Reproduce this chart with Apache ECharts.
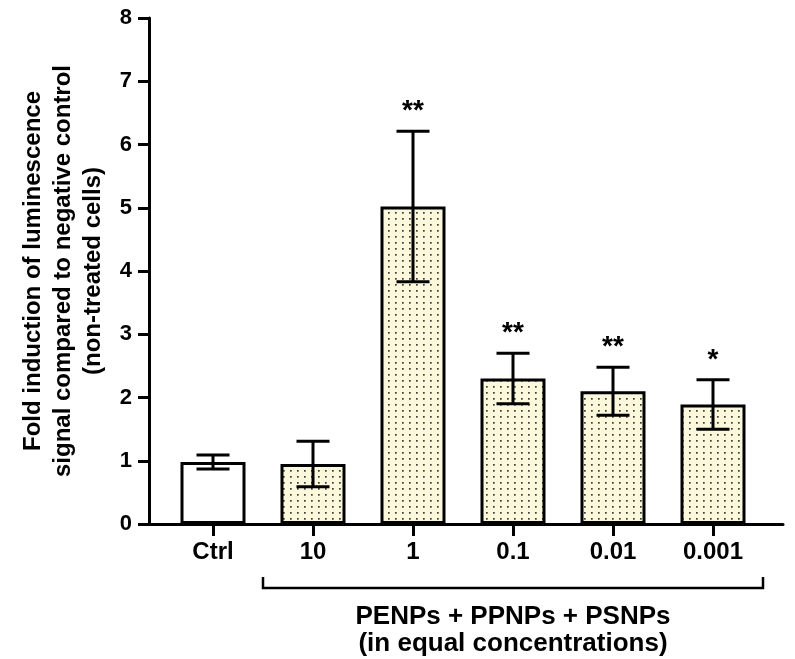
<!DOCTYPE html>
<html>
<head>
<meta charset="utf-8">
<script src="https://cdn.jsdelivr.net/npm/echarts@6/dist/echarts.min.js"></script>
<style>
  html, body { margin: 0; padding: 0; background: #fff; }
  #chart { width: 795px; height: 659px; }
</style>
</head>
<body>
<div id="chart"></div>
<script>
var categories = ['Ctrl', '10', '1', '0.1', '0.01', '0.001'];
var means = [0.98, 0.95, 5.02, 2.30, 2.10, 1.89];
var errors = [0.11, 0.36, 1.19, 0.40, 0.38, 0.39];
var stars = ['', '', '**', '**', '**', '*'];
var yTitle = ['Fold induction of luminescence', 'signal compared to negative control', '(non-treated cells)'];
var bracketFrom = 1, bracketTo = 5;
var bracketText = ['PENPs + PPNPs + PSNPs', '(in equal concentrations)'];

var FONT = 'Liberation Sans, Arial, sans-serif';

// dotted pale yellow fill
var pat = document.createElement('canvas');
pat.width = 7; pat.height = 6;
var pctx = pat.getContext('2d');
pctx.fillStyle = '#fbf8dc';
pctx.fillRect(0, 0, 7, 6);
pctx.fillStyle = '#3c3c34';
pctx.fillRect(3, 2, 1.7, 1.7);

var chart = echarts.init(document.getElementById('chart'));

var barData = means.map(function (v, i) {
  return {
    value: v,
    itemStyle: { color: i === 0 ? '#ffffff' : { image: pat, repeat: 'repeat' } }
  };
});

var errData = means.map(function (v, i) {
  return [i, v - errors[i], v + errors[i]];
});

function renderErr(params, api) {
  var x = api.value(0);
  var lo = api.coord([x, api.value(1)]);
  var hi = api.coord([x, api.value(2)]);
  var half = api.size([1, 0])[0] * 0.165;
  var st = { stroke: '#000', lineWidth: 3 };
  var star = stars[params.dataIndex];
  return {
    type: 'group',
    children: [
      { type: 'line', shape: { x1: hi[0], y1: hi[1], x2: lo[0], y2: lo[1] }, style: st },
      { type: 'line', shape: { x1: hi[0] - half, y1: hi[1], x2: hi[0] + half, y2: hi[1] }, style: st },
      { type: 'line', shape: { x1: lo[0] - half, y1: lo[1], x2: lo[0] + half, y2: lo[1] }, style: st },
      { type: 'text', x: hi[0], y: hi[1] - 6,
        style: { text: star, fill: '#000', font: 'bold 28px ' + FONT, align: 'center', verticalAlign: 'bottom' } }
    ]
  };
}

function renderBracket(params, api) {
  var a = api.coord([api.value(0), 0]);
  var b = api.coord([api.value(1), 0]);
  var band = api.size([1, 0])[0];
  var x1 = a[0] - band / 2, x2 = b[0] + band / 2;
  var y = a[1] + 64;
  var st = { stroke: '#000', lineWidth: 2.5, fill: null };
  return {
    type: 'group',
    children: [
      { type: 'polyline', shape: { points: [[x1, y - 11], [x1, y], [x2, y], [x2, y - 11]] }, style: st },
      { type: 'text', x: (x1 + x2) / 2, y: y + 29,
        style: { text: bracketText[0], fill: '#000', font: 'bold 26px ' + FONT, align: 'center', verticalAlign: 'middle' } },
      { type: 'text', x: (x1 + x2) / 2, y: y + 56,
        style: { text: bracketText[1], fill: '#000', font: 'bold 26px ' + FONT, align: 'center', verticalAlign: 'middle' } }
    ]
  };
}

var option = {
  animation: false,
  backgroundColor: '#fff',
  grid: [
    { left: 149, right: 12, top: 18, bottom: 135, containLabel: false, outerBoundsMode: 'none' },
    { left: 163, width: 600, top: 18, bottom: 135, containLabel: false, outerBoundsMode: 'none' }
  ],
  xAxis: [
    {
      gridIndex: 0, type: 'value', min: 0, max: 1,
      axisLine: { show: true, lineStyle: { color: '#000', width: 3 } },
      axisTick: { show: false }, axisLabel: { show: false }, splitLine: { show: false }
    },
    {
      gridIndex: 1, type: 'category', data: categories,
      axisLine: { show: false },
      axisTick: { show: true, alignWithLabel: true, length: 12, lineStyle: { color: '#000', width: 3 } },
      axisLabel: { color: '#000', fontWeight: 'bold', fontSize: 24, fontFamily: FONT, margin: 16 }
    }
  ],
  yAxis: [
    {
      gridIndex: 0, type: 'value', min: 0, max: 8, interval: 1,
      axisLine: { show: true, lineStyle: { color: '#000', width: 3 } },
      axisTick: { show: true, length: 11, lineStyle: { color: '#000', width: 3 } },
      axisLabel: { color: '#000', fontWeight: 'bold', fontSize: 22, fontFamily: FONT, margin: 17 },
      splitLine: { show: false },
      name: yTitle.join('\n'),
      nameLocation: 'middle',
      nameRotate: 90,
      nameGap: 33,
      nameTextStyle: { color: '#000', fontWeight: 'bold', fontSize: 24, fontFamily: FONT, lineHeight: 30 }
    },
    { gridIndex: 1, type: 'value', min: 0, max: 8, show: false }
  ],
  series: [
    {
      type: 'bar', xAxisIndex: 1, yAxisIndex: 1,
      data: barData, barWidth: '65%',
      itemStyle: { borderColor: '#000', borderWidth: 3 }
    },
    {
      type: 'custom', xAxisIndex: 1, yAxisIndex: 1,
      renderItem: renderErr, data: errData, z: 5
    },
    {
      type: 'custom', xAxisIndex: 1, yAxisIndex: 1, clip: false,
      renderItem: renderBracket, data: [[bracketFrom, bracketTo]], z: 5
    }
  ]
};

chart.setOption(option);
</script>
</body>
</html>
